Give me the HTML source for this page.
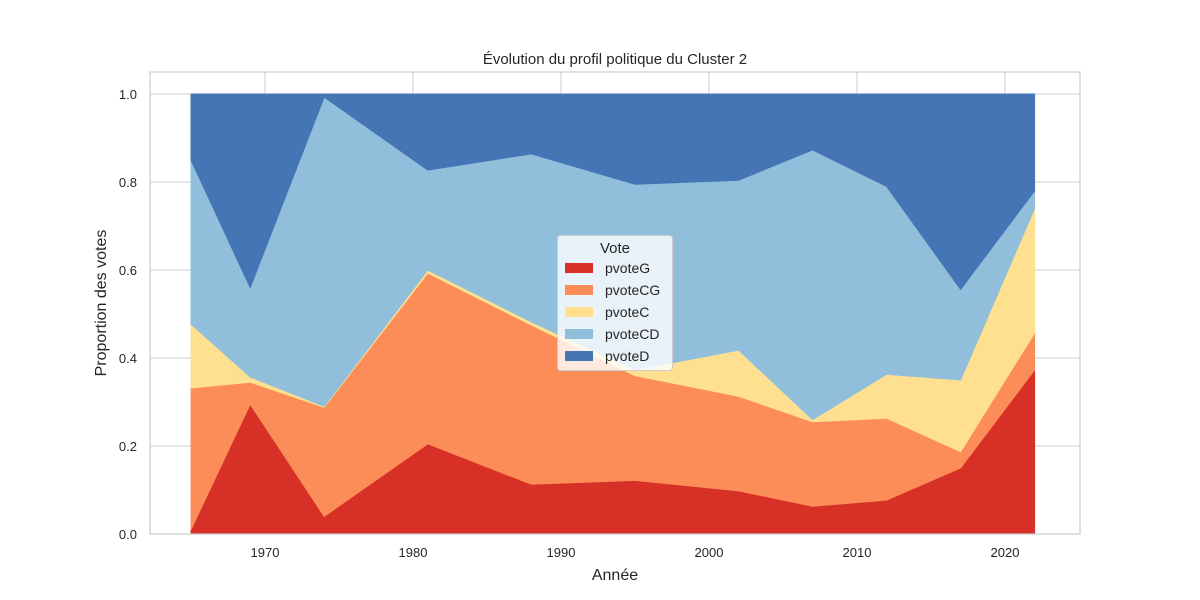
<!DOCTYPE html>
<html><head><meta charset="utf-8">
<style>
html,body{margin:0;padding:0;background:#fff;overflow:hidden;width:1200px;height:600px;}
svg{display:block;}
svg text{font-family:"Liberation Sans","DejaVu Sans",sans-serif;fill:#262626;}
</style></head>
<body>
<div style="position:relative;width:1200px;height:600px">
<svg id="chart" width="1200" height="600" style="position:absolute;left:0;top:0"></svg>
<svg width="1200" height="600" style="position:absolute;left:0;top:0">
<text x="615" y="64" text-anchor="middle" font-size="15">Évolution du profil politique du Cluster 2</text>
<text x="615" y="580" text-anchor="middle" font-size="16">Année</text>
<text transform="translate(106,303) rotate(-90)" text-anchor="middle" font-size="16">Proportion des votes</text>
<g>
<rect x="557.5" y="235.5" width="115" height="135" rx="3" fill="#ffffff" fill-opacity="0.8" stroke="#cccccc"/>
<text x="615" y="253" text-anchor="middle" font-size="15">Vote</text>
<rect x="565" y="263" width="28" height="10" fill="#d73027"/>
<text x="605" y="273" font-size="14">pvoteG</text>
<rect x="565" y="285" width="28" height="10" fill="#fc8d59"/>
<text x="605" y="295" font-size="14">pvoteCG</text>
<rect x="565" y="307" width="28" height="10" fill="#fee090"/>
<text x="605" y="317" font-size="14">pvoteC</text>
<rect x="565" y="329" width="28" height="10" fill="#91bfdb"/>
<text x="605" y="339" font-size="14">pvoteCD</text>
<rect x="565" y="351" width="28" height="10" fill="#4575b4"/>
<text x="605" y="361" font-size="14">pvoteD</text>
</g>
</svg>
</div>
<script>
const years=[1965,1969,1974,1981,1988,1995,2002,2007,2012,2017,2022];
const pvoteG =[0.010,0.295,0.040,0.205,0.113,0.122,0.098,0.063,0.077,0.150,0.373];
const pvoteCG=[0.322,0.050,0.248,0.388,0.362,0.238,0.215,0.192,0.186,0.037,0.084];
const pvoteC =[0.145,0.012,0.002,0.007,0.007,0.013,0.105,0.005,0.100,0.163,0.283];
const pvoteCD=[0.373,0.203,0.703,0.227,0.382,0.422,0.386,0.613,0.427,0.206,0.040];
const xTicks=[1970,1980,1990,2000,2010,2020];
const yTicks=[0,0.2,0.4,0.6,0.8,1.0];
const seriesNames=["pvoteG","pvoteCG","pvoteC","pvoteCD","pvoteD"];
const colors=["#d73027","#fc8d59","#fee090","#91bfdb","#4575b4"];

const NS="http://www.w3.org/2000/svg";
const svg=document.getElementById('chart');
const L=150,R=1080,T=72,B=534;
const xs=y=>265+(y-1970)*14.8;
const ys=v=>534-v*440;
function el(tag,attrs,parent){const e=document.createElementNS(NS,tag);for(const k in attrs)e.setAttribute(k,attrs[k]);(parent||svg).appendChild(e);return e;}

xTicks.forEach(t=>{const g=el('line',{x1:xs(t),x2:xs(t),y1:T,y2:B,stroke:'#cccccc','stroke-width':1});

});
yTicks.forEach(t=>{const g=el('line',{x1:L,x2:R,y1:ys(t),y2:ys(t),stroke:'#cccccc','stroke-width':1});

});

const pvoteD=years.map((_,i)=>1-pvoteG[i]-pvoteCG[i]-pvoteC[i]-pvoteCD[i]);
const series=[pvoteG,pvoteCG,pvoteC,pvoteCD,pvoteD];
let base=years.map(()=>0);
series.forEach((s,k)=>{
  const top=base.map((b,i)=>b+s[i]);
  let d='M'+years.map((y,i)=>xs(y)+','+ys(top[i])).join('L');
  for(let i=years.length-1;i>=0;i--) d+='L'+xs(years[i])+','+ys(base[i]);
  d+='Z';
  const p=el('path',{d:d,fill:colors[k],stroke:colors[k],'stroke-width':1});
  
  
  base=top;
});

const sp=el('rect',{x:L,y:T,width:R-L,height:B-T,fill:'none',stroke:'#cccccc','stroke-width':1.2});



xTicks.forEach(t=>{const tx=el('text',{x:xs(t),y:557,'text-anchor':'middle','font-size':13});tx.textContent=t;

});
yTicks.forEach(t=>{const tx=el('text',{x:137,y:ys(t)+5,'text-anchor':'end','font-size':13});tx.textContent=t.toFixed(1);

});
</script>
</body></html>
